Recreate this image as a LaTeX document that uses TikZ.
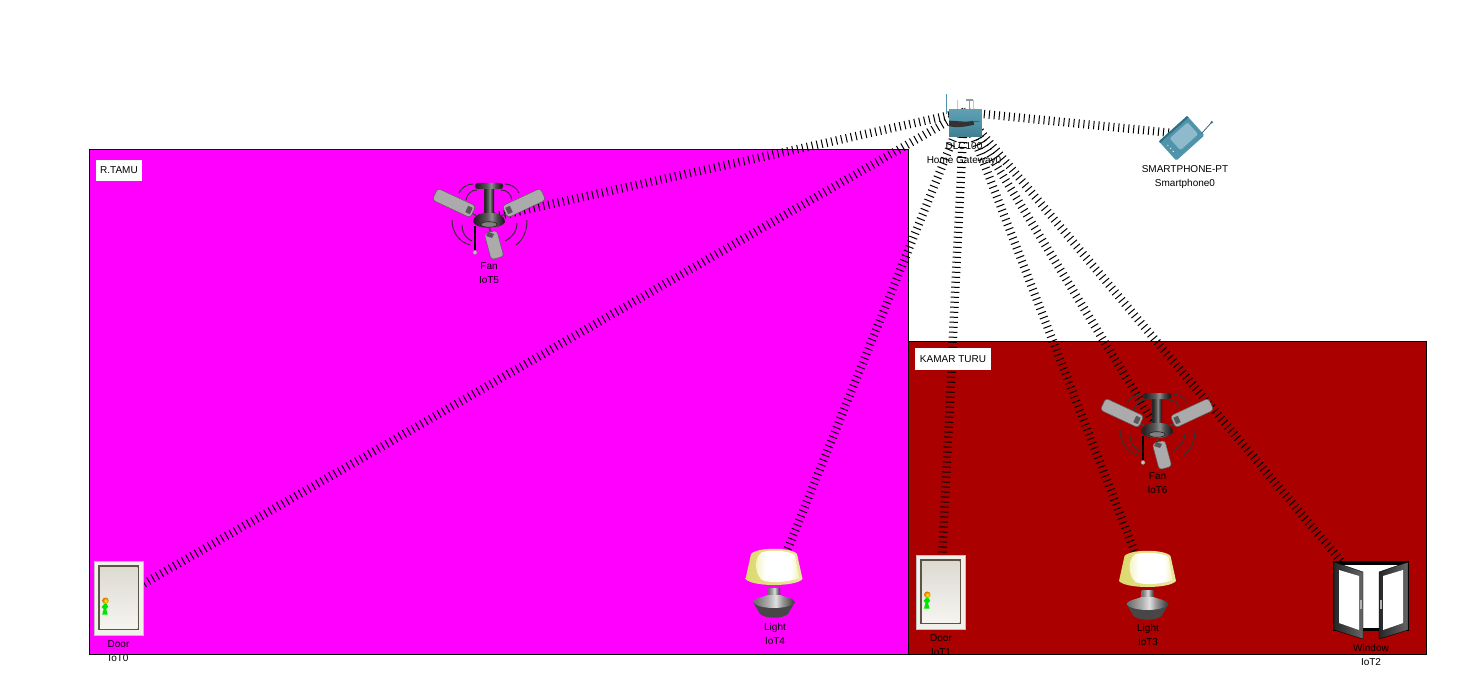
\documentclass[tikz,border=0pt]{standalone}
\usepackage{fontspec}
\setmainfont{Liberation Sans}
\definecolor{roompink}{HTML}{FF00FF}
\definecolor{roomred}{HTML}{AA0000}
\definecolor{teal1}{HTML}{4F94AA}
\definecolor{teal2}{HTML}{8FBACB}
\definecolor{teal3}{HTML}{2F6F84}
\definecolor{bladegray}{HTML}{ABABAB}
\definecolor{lampY}{HTML}{DCD96E}
\definecolor{lampP}{HTML}{F3F2B8}
\definecolor{lampQ}{HTML}{E9E7A2}
\definecolor{leafA}{HTML}{DDDAD2}
\definecolor{leafB}{HTML}{F5F4F0}
\definecolor{frameB}{HTML}{5C5446}
\definecolor{frameW}{HTML}{F2F0EA}
\pgfdeclarehorizontalshading{lampbase}{100bp}{color(0bp)=(lampY);color(25bp)=(lampY);color(75bp)=(lampQ);color(100bp)=(lampQ)}
\pgfdeclarehorizontalshading{lampblob}{100bp}{color(0bp)=(lampP);color(25bp)=(lampP);color(38bp)=(white);color(66bp)=(white);color(75bp)=(lampP);color(100bp)=(lampP)}
\pgfdeclarehorizontalshading{metal}{100bp}{color(0bp)=(black!55);color(28bp)=(black!55);color(44bp)=(black!30);color(52bp)=(black!12);color(60bp)=(black!40);color(72bp)=(black!72);color(100bp)=(black!78)}
\pgfdeclarehorizontalshading{fanmetal}{100bp}{color(0bp)=(black!85);color(30bp)=(black!85);color(46bp)=(black!65);color(54bp)=(black!45);color(62bp)=(black!70);color(72bp)=(black!88);color(100bp)=(black!90)}
\tikzset{
  x=1pt,y=-1pt,
  wireless/.style={draw=black,line width=8.5pt,dash pattern=on 1pt off 4pt},
  devport/.style={inner sep=0pt,minimum size=0pt,outer sep=0pt},
  lbl/.style={inner sep=0pt,align=center,text=black,font=\fontsize{10}{14}\selectfont},
  roomlbl/.style={fill=white,inner sep=0pt,text=black,font=\fontsize{10}{12}\selectfont},
  room/.style={draw=black,line width=1pt},
  wave/.style={draw=black!80,line width=1pt},
  blade/.style={fill=bladegray,draw=black!65,line width=.5pt,rounded corners=3pt},
  fanicon/.pic={
    \foreach \s in {-1,1}{
      \draw[wave] (\s*30,-26) .. controls (\s*28,-31) and (\s*22,-35) .. (\s*16,-35);
      \draw[wave] (\s*23,-19) .. controls (\s*22,-25) and (\s*18,-29) .. (\s*12,-29);
    }
    \draw[wave] (-37,1) .. controls (-37,13) and (-30,23) .. (-19,26);
    \draw[wave] (-27,6) .. controls (-27,13) and (-24,19) .. (-17,22);
    \draw[wave] (38,1) .. controls (38,12) and (34,21) .. (27,26);
    \draw[wave] (28,4) .. controls (28,12) and (23,19) .. (16,22);
    \draw[black!75,line width=1.2pt] (-10,-2) -- (-20,-7);
    \draw[black!75,line width=1.2pt] (10,-2) -- (20,-7);
    \draw[black!75,line width=1.5pt] (0,8) -- (2,14);
    \draw[blade,shift={(-35,-16)},rotate=-25] (-21,-6.5) rectangle (21,6.5);
    \draw[blade,shift={(35,-16)},rotate=25] (-21,-6.5) rectangle (21,6.5);
    \draw[blade,shift={(5,26)},rotate=-75] (-13.5,-6.5) rectangle (13.5,6.5);
    \fill[black!65,shift={(-20,-9)},rotate=-25] (-2.5,-3.5) rectangle (2.5,3.5);
    \fill[black!65,shift={(20,-9)},rotate=25] (-2.5,-3.5) rectangle (2.5,3.5);
    \fill[black!65] (-1,13) -- (5,15) -- (3,19) -- (-3,17) -- cycle;
    \shade[shading=fanmetal] (-5,-31) rectangle (5,-3);
    \shade[shading=fanmetal,rounded corners=2.5pt] (-14,-36) rectangle (14,-30);
    \shade[shading=fanmetal] (-16,3) .. controls (-15,-5) and (-8,-6) .. (0,-6) .. controls (8,-6) and (15,-5) .. (16,3) .. controls (12,11) and (-12,11) .. (-16,3) -- cycle;
    \draw[black!85,fill=black!50,line width=.7pt] (0,5.5) ellipse [x radius=8,y radius=2.8];
    \draw[black,line width=1.1pt] (-14,7) -- (-14,31);
    \fill[gray!50,draw=black!50,line width=.3pt] (-14,33.5) circle (2);
  },
  dooricon/.pic={
    \fill[frameW,draw=gray!50,line width=.5pt] (-24.5,-37) rectangle (24.5,37);
    \fill[frameB] (-20.5,-33) rectangle (20.5,32);
    \shade[top color=leafA,bottom color=leafB] (-18.5,-31) rectangle (19,30.5);
    \fill[green!90!black] (-14.5,6) -- (-12,6) -- (-10.5,9) -- (-12.5,11) -- (-11,16.5) -- (-16.5,16.5) -- (-15,11) -- (-17,9) -- cycle;
    \shade[inner color=yellow,outer color=orange!85!black] (-13.2,2.7) circle (3.2);
  },
  lampicon/.pic={
    \shade[shading=metal] (-6,5) rectangle (6,16);
    \fill[black!72] (-21,19) -- (-14,31) .. controls (-8,36) and (8,36) .. (14,31) -- (21,19) -- cycle;
    \shade[shading=metal] (-6,12) -- (6,12) .. controls (10,14) and (20,15) .. (21,19) .. controls (16,27) and (-16,27) .. (-21,19) .. controls (-20,15) and (-10,14) .. (-6,12) -- cycle;
    \shade[shading=lampbase] (-23,-29) .. controls (-17,-36) and (17,-36) .. (23,-29) -- (28.5,-4) .. controls (22,4) and (-22,4) .. (-28.5,-4) -- cycle;
    \shade[shading=lampblob] (-12,-31) .. controls (-2,-33) and (12,-33) .. (21,-28) -- (25,-5) .. controls (12,0) and (-5,0) .. (-12,-3) .. controls (-20,-10) and (-20,-26) .. (-12,-31) -- cycle;
  },
  windowicon/.pic={
    \fill[black] (-38.5,-39) rectangle (38,31);
    \fill[white] (-30,-35) rectangle (30,27.5);
    \foreach \s in {-1,1}{
      \shade[left color=black!85,right color=black!60,draw=black,line width=.4pt] (\s*37,-38) -- (\s*8,-28) -- (\s*8,39) -- (\s*37,30) -- cycle;
      \fill[white] (\s*32,-30) -- (\s*12,-24) -- (\s*12,30) -- (\s*32,23) -- cycle;
      \fill[gray!60] (\s*9.4,0) rectangle (\s*10.6,9);
    }
  },
  gatewayicon/.pic={
    \draw[teal1,line width=.8pt] (-18.7,-29) -- (-18.7,-9);
    \draw[teal2!70,line width=1pt] (-8,-23) -- (-8,-13);
    \draw[teal2!70,line width=1pt] (8,-23) -- (8,-13);
    \draw[teal2!50!gray,line width=1.6pt] (4,-22) -- (4,-13);
    \draw[teal2!50!gray,line width=1.4pt] (0.5,-22.5) -- (7.5,-22.5);
    \shade[top color=teal1!90!white,bottom color=teal1!85!black,middle color=teal1] (-16.3,-13.5) rectangle (16.5,13.5);
    \fill[black!80] (-16.3,-2) .. controls (-8,-2) and (0,0) .. (8,-2) -- (9,2) .. controls (0,4) and (-8,5.5) .. (-16.3,3.5) -- cycle;
    \draw[black!70,line width=.6pt] (8,-1) -- (14,-1.5);
  },
  phoneicon/.pic={
    \begin{scope}[rotate=42]
      \fill[teal1,rounded corners=1.5pt] (-19,-13) rectangle (19,13);
      \fill[teal3] (-19,-13) rectangle (19,-11);
      \fill[teal2,rounded corners=1.5pt] (-9,-8) rectangle (15,8);
      \fill[white!80!teal1] (-15,-4) circle (.8) (-15,0) circle (.8) (-15,4) circle (.8);
    \end{scope}
    \draw[teal3!80!black,line width=.7pt] (20,-5) -- (30,-16);
    \fill[teal3] (30,-16) circle (1.4);
  }
}
\begin{document}
\begin{tikzpicture}
\useasboundingbox (0,0) rectangle (1479,676);
\fill[white] (0,0) rectangle (1479,676);
% rooms
\draw[room,fill=roompink] (89.5,150) rectangle (908,654.5);
\draw[room,fill=roomred] (908,341.5) rectangle (1426.5,654.5);
% device anchors
\node[devport] (gw) at (964,112) {};
\node[devport] (phone) at (1182,134) {};
\node[devport] (fanA) at (489,218) {};
\node[devport] (fanB) at (1157,428) {};
\node[devport] (door0) at (118.7,598) {};
\node[devport] (door1) at (940.5,592) {};
\node[devport] (lightA) at (774,583) {};
\node[devport] (lightB) at (1147.5,585) {};
\node[devport] (win) at (1371,597) {};
% wireless links
\draw[wireless] (gw) -- (phone);
\draw[wireless] (gw) -- (fanA);
\draw[wireless] (gw) -- (fanB);
\draw[wireless] (gw) -- (door0);
\draw[wireless] (gw) -- (door1);
\draw[wireless] (gw) -- (lightA);
\draw[wireless] (gw) -- (lightB);
\draw[wireless] (gw) -- (win);
% icons
\pic at (965.3,122.7) {gatewayicon};
\pic at (1181.7,138.3) {phoneicon};
\pic at (489,219) {fanicon};
\pic at (1157,429) {fanicon};
\pic at (118.7,598) {dooricon};
\pic at (940.5,592) {dooricon};
\pic at (774,583) {lampicon};
\pic at (1147.5,585) {lampicon};
\pic at (1371,600) {windowicon};
% room labels
\node[roomlbl,minimum width=46pt,minimum height=21pt] (rtamu) at (119,170.5) {R.TAMU};
\node[roomlbl,minimum width=76pt,minimum height=22pt] (kamar) at (953,359) {KAMAR TURU};
% device labels
\node[lbl] (gwlbl) at (964,154) {DLC100\\Home Gateway0};
\node[lbl] (phonelbl) at (1185,177) {SMARTPHONE-PT\\Smartphone0};
\node[lbl] (fanAlbl) at (489,273) {Fan\\IoT5};
\node[lbl] (fanBlbl) at (1157.5,483) {Fan\\IoT6};
\node[lbl] (door0lbl) at (118.5,651) {Door\\IoT0};
\node[lbl] (door1lbl) at (941,645) {Door\\IoT1};
\node[lbl] (lightAlbl) at (775,633.5) {Light\\IoT4};
\node[lbl] (lightBlbl) at (1148,635) {Light\\IoT3};
\node[lbl] (winlbl) at (1371,655) {Window\\IoT2};
\end{tikzpicture}
\end{document}
